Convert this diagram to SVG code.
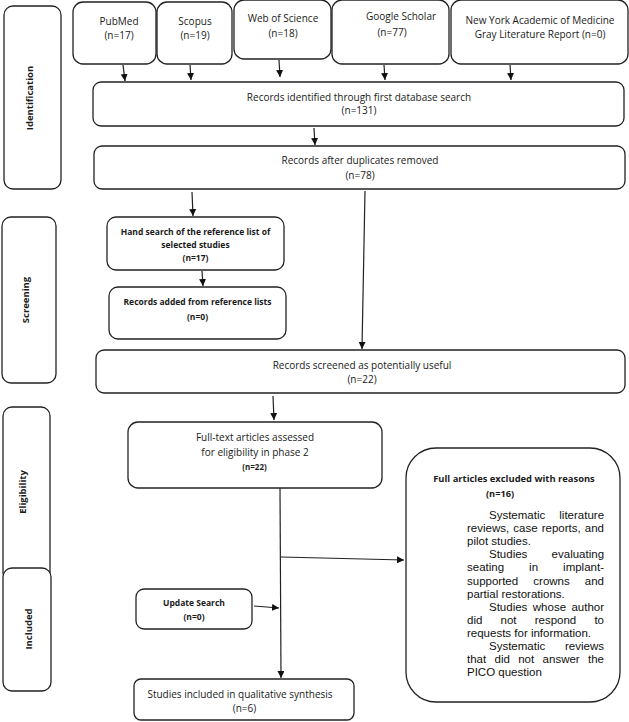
<svg xmlns="http://www.w3.org/2000/svg" width="629" height="722" viewBox="0 0 629 722">
<defs>
<style>
.box{fill:#fff;stroke:#222;stroke-width:1.3}
.t{font-family:"Open Sans","DejaVu Sans",sans-serif;font-size:10px;fill:#1a1a1a;text-anchor:middle}
.b{font-family:"Open Sans","DejaVu Sans",sans-serif;font-size:8.5px;font-weight:bold;fill:#1a1a1a;text-anchor:middle}
.side{font-family:"Open Sans","DejaVu Sans",sans-serif;font-size:9.5px;font-weight:bold;fill:#1a1a1a;text-anchor:middle;dominant-baseline:central}
.j{font-family:"Liberation Sans",Arial,sans-serif;font-size:11.5px;fill:#111}
.c{fill:none;stroke:#222;stroke-width:1.2}
</style>
<marker id="ah" viewBox="0 0 10 10" refX="10" refY="5" markerWidth="7" markerHeight="7" markerUnits="userSpaceOnUse" orient="auto">
<path d="M0,0 L10,5 L0,10 z" fill="#111"/>
</marker>
</defs>
<rect width="629" height="722" fill="#fff"/>

<g id="side-identification">
<rect class="box" x="4" y="6" width="57" height="183" rx="9"/>
<text class="side" transform="translate(29,98) rotate(-90)">Identification</text>
</g>
<g id="side-screening">
<rect class="box" x="2" y="217" width="54" height="166" rx="9"/>
<text class="side" transform="translate(25,300) rotate(-90)">Screening</text>
</g>
<g id="side-eligibility">
<rect class="box" x="3" y="407" width="47" height="175" rx="9"/>
<text class="side" transform="translate(22,492) rotate(-90)">Eligibility</text>
</g>
<g id="side-included">
<rect class="box" x="3" y="568" width="48" height="123" rx="9"/>
<text class="side" transform="translate(28,629) rotate(-90)">Included</text>
</g>

<g id="pubmed">
<rect class="box" x="73" y="2" width="83" height="62" rx="10"/>
<text class="t" x="119" y="25">PubMed</text>
<text class="t" x="119" y="39">(n=17)</text>
</g>
<g id="scopus">
<rect class="box" x="157" y="2" width="75" height="62" rx="10"/>
<text class="t" x="195" y="25">Scopus</text>
<text class="t" x="195" y="39">(n=19)</text>
</g>
<g id="wos">
<rect class="box" x="234" y="0" width="97" height="59" rx="10"/>
<text class="t" x="283" y="21.5">Web of Science</text>
<text class="t" x="283" y="36.5">(n=18)</text>
</g>
<g id="google">
<rect class="box" x="332" y="0" width="117" height="64" rx="10"/>
<text class="t" x="401" y="19.5">Google Scholar</text>
<text class="t" x="392" y="35.5">(n=77)</text>
</g>
<g id="nyam">
<rect class="box" x="451" y="0" width="177" height="64" rx="10"/>
<text class="t" x="540" y="23.5">New York Academic of Medicine</text>
<text class="t" x="540" y="37.5">Gray Literature Report (n=0)</text>
</g>

<g id="identified">
<rect class="box" x="93" y="82" width="531" height="44" rx="8"/>
<text class="t" x="359" y="100.5">Records identified through first database search</text>
<text class="t" x="359" y="114">(n=131)</text>
</g>
<g id="dedup">
<rect class="box" x="94" y="146" width="531" height="43" rx="8"/>
<text class="t" x="360" y="163.5">Records after duplicates removed</text>
<text class="t" x="360" y="178.5">(n=78)</text>
</g>

<g id="handsearch">
<rect class="box" x="107" y="217" width="177" height="53" rx="9"/>
<text class="b" x="195.5" y="235">Hand search of the reference list of</text>
<text class="b" x="195.5" y="247.5">selected studies</text>
<text class="b" x="195.5" y="261">(n=17)</text>
</g>
<g id="added">
<rect class="box" x="109" y="287" width="177" height="52" rx="9"/>
<text class="b" x="197.5" y="305">Records added from reference lists</text>
<text class="b" x="197.5" y="320">(n=0)</text>
</g>

<g id="screened">
<rect class="box" x="96" y="350" width="529" height="43" rx="8"/>
<text class="t" x="362" y="368.5">Records screened as potentially useful</text>
<text class="t" x="362" y="382.5">(n=22)</text>
</g>

<g id="fulltext">
<rect class="box" x="128" y="422" width="254" height="66" rx="10"/>
<text class="t" x="255" y="440.5">Full-text articles assessed</text>
<text class="t" x="255" y="455.5">for eligibility in phase 2</text>
<text class="b" x="254.5" y="470" style="font-size:8px">(n=22)</text>
</g>

<g id="update">
<rect class="box" x="136" y="589" width="116" height="40" rx="8"/>
<text class="b" x="194" y="606">Update Search</text>
<text class="b" x="194" y="619.5">(n=0)</text>
</g>

<g id="included">
<rect class="box" x="134" y="679" width="220" height="41" rx="7"/>
<text class="t" x="240" y="697.5">Studies included in qualitative synthesis</text>
<text class="t" x="244.5" y="711.5">(n=6)</text>
</g>

<g id="excluded">
<rect class="box" x="406" y="448" width="214" height="254" rx="30"/>
<text class="b" x="514" y="482" style="font-size:9.4px">Full articles excluded with reasons</text>
<text class="b" x="500" y="496.5" style="font-size:9.2px">(n=16)</text>
<text class="j" y="519"><tspan x="489">Systematic</tspan><tspan x="559.3">literature</tspan></text>
<text class="j" y="532.1"><tspan x="467">reviews,</tspan><tspan x="513.3">case</tspan><tspan x="541.7">reports,</tspan><tspan x="584.8">and</tspan></text>
<text class="j" y="545.2" x="467">pilot studies.</text>
<text class="j" y="558.3"><tspan x="489">Studies</tspan><tspan x="551.6">evaluating</tspan></text>
<text class="j" y="571.4"><tspan x="467">seating</tspan><tspan x="529.1">in</tspan><tspan x="563.1">implant-</tspan></text>
<text class="j" y="584.5"><tspan x="467">supported</tspan><tspan x="533.3">crowns</tspan><tspan x="584.8">and</tspan></text>
<text class="j" y="597.6" x="467">partial restorations.</text>
<text class="j" y="610.7"><tspan x="489">Studies</tspan><tspan x="532.8">whose</tspan><tspan x="571.4">author</tspan></text>
<text class="j" y="623.8"><tspan x="467">did</tspan><tspan x="500.5">not</tspan><tspan x="534.7">respond</tspan><tspan x="594.4">to</tspan></text>
<text class="j" y="636.9" x="467">requests for information.</text>
<text class="j" y="650"><tspan x="489">Systematic</tspan><tspan x="565">reviews</tspan></text>
<text class="j" y="663.1"><tspan x="467">that</tspan><tspan x="494.6">did</tspan><tspan x="518.2">not</tspan><tspan x="542.6">answer</tspan><tspan x="588">the</tspan></text>
<text class="j" y="676.2" x="467">PICO question</text>
</g>

<g id="connectors">
<line class="c" x1="123" y1="65" x2="125" y2="81" marker-end="url(#ah)"/>
<line class="c" x1="190" y1="65" x2="191" y2="80" marker-end="url(#ah)"/>
<line class="c" x1="279" y1="60" x2="280" y2="77" marker-end="url(#ah)"/>
<line class="c" x1="384" y1="65" x2="385" y2="80" marker-end="url(#ah)"/>
<line class="c" x1="510" y1="65" x2="511" y2="80" marker-end="url(#ah)"/>
<line class="c" x1="314" y1="128" x2="315" y2="145" marker-end="url(#ah)"/>
<line class="c" x1="192" y1="192" x2="193" y2="216" marker-end="url(#ah)"/>
<line class="c" x1="365" y1="191" x2="362" y2="349" marker-end="url(#ah)"/>
<line class="c" x1="202" y1="271" x2="203" y2="286" marker-end="url(#ah)"/>
<line class="c" x1="273" y1="396" x2="274" y2="420" marker-end="url(#ah)"/>
<line class="c" x1="280" y1="488" x2="281" y2="678" marker-end="url(#ah)"/>
<line class="c" x1="281" y1="557" x2="404" y2="560" marker-end="url(#ah)"/>
<line class="c" x1="254" y1="606" x2="279" y2="608" marker-end="url(#ah)"/>
</g>
</svg>
